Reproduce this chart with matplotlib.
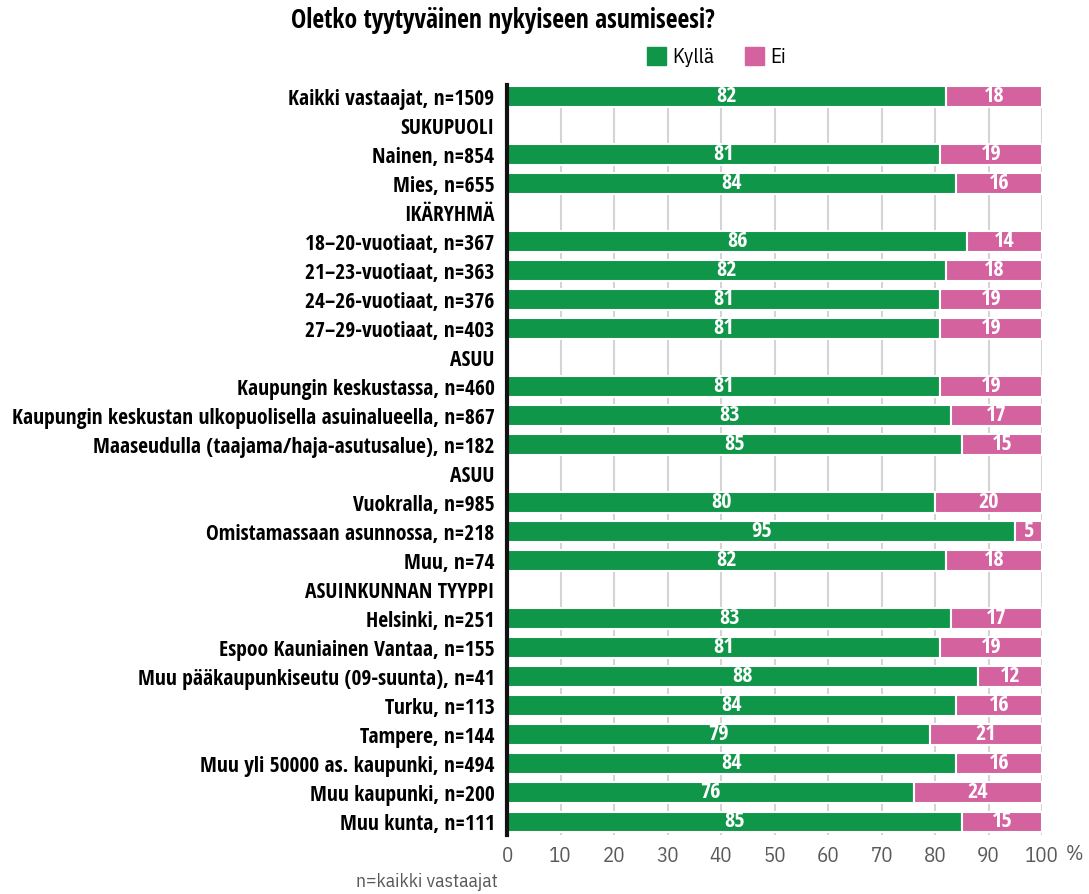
import numpy as np
import matplotlib
matplotlib.use("Agg")
import matplotlib.pyplot as plt
from matplotlib.patches import Patch

plt.rcParams["font.family"] = ["Open Sans Condensed", "DejaVu Sans"]
plt.rcParams["font.weight"] = "bold"

# 数据：行标签（None 值表示分组标题行）
row_labels = [
    "Kaikki vastaajat, n=1509",
    "SUKUPUOLI",
    "Nainen, n=854",
    "Mies, n=655",
    "IKÄRYHMÄ",
    "18–20-vuotiaat, n=367",
    "21–23-vuotiaat, n=363",
    "24–26-vuotiaat, n=376",
    "27–29-vuotiaat, n=403",
    "ASUU",
    "Kaupungin keskustassa, n=460",
    "Kaupungin keskustan ulkopuolisella asuinalueella, n=867",
    "Maaseudulla (taajama/haja-asutusalue), n=182",
    "ASUU",
    "Vuokralla, n=985",
    "Omistamassaan asunnossa, n=218",
    "Muu, n=74",
    "ASUINKUNNAN TYYPPI",
    "Helsinki, n=251",
    "Espoo Kauniainen Vantaa, n=155",
    "Muu pääkaupunkiseutu (09-suunta), n=41",
    "Turku, n=113",
    "Tampere, n=144",
    "Muu yli 50000 as. kaupunki, n=494",
    "Muu kaupunki, n=200",
    "Muu kunta, n=111",
]
kylla = [82, None, 81, 84, None, 86, 82, 81, 81, None, 81, 83, 85, None,
         80, 95, 82, None, 83, 81, 88, 84, 79, 84, 76, 85]
ei = [18, None, 19, 16, None, 14, 18, 19, 19, None, 19, 17, 15, None,
      20, 5, 18, None, 17, 19, 12, 16, 21, 16, 24, 15]

green = "#0f9649"
pink = "#d3629f"
gray = "#5a5a5a"
regular = dict(family="IBM Plex Sans Condensed", weight="normal")

fig = plt.figure(figsize=(10.89, 8.94), dpi=100)
ax = fig.add_axes([0.4656, 0.066, 0.4913, 0.839])

y = np.arange(len(row_labels))
for i in y:
    if kylla[i] is None:
        continue
    ax.barh(i, kylla[i], height=0.72, color=green, edgecolor="white",
            linewidth=1.5, zorder=3)
    ax.barh(i, ei[i], left=kylla[i], height=0.72, color=pink,
            edgecolor="white", linewidth=1.5, zorder=3)
    ax.text(kylla[i] / 2, i, str(kylla[i]), ha="center", va="center",
            color="white", fontsize=16, fontweight="bold", zorder=4)
    ax.text(kylla[i] + ei[i] / 2, i, str(ei[i]), ha="center", va="center",
            color="white", fontsize=16, fontweight="bold", zorder=4)

ax.set_xlim(0, 100)
ax.set_ylim(len(row_labels) - 1 + 0.45, -0.41)
ax.set_xticks(np.arange(0, 101, 10))
ax.set_xticklabels([str(v) for v in range(0, 101, 10)], fontsize=15,
                   color=gray, **regular)
ax.tick_params(axis="x", length=0, pad=9)
ax.set_yticks(y)
ax.set_yticklabels(row_labels, fontsize=15.5, fontweight="bold")
ax.tick_params(axis="y", length=0, pad=9)
ax.grid(axis="x", color="#d4d4d4", linewidth=1.5, zorder=0)
ax.set_axisbelow(True)
for s in ["top", "right", "bottom"]:
    ax.spines[s].set_visible(False)
ax.spines["left"].set_linewidth(3)
ax.spines["left"].set_color("#111111")
ax.spines["left"].set_zorder(5)

# 标题、图例与注释
fig.text(0.462, 0.977, "Oletko tyytyväinen nykyiseen asumiseesi?",
         ha="center", va="center", fontsize=18.5, fontweight="bold")
handles = [Patch(color=green, label="Kyllä"), Patch(color=pink, label="Ei")]
fig.legend(handles=handles, loc="center", bbox_to_anchor=(0.658, 0.936),
           ncol=2, frameon=False, prop=dict(size=15, **regular),
           handlelength=0.9, handleheight=0.9, handletextpad=0.3,
           columnspacing=1.5)
fig.text(0.987, 0.044, "%", ha="center", va="center", fontsize=15,
         color=gray, **regular)
fig.text(0.457, 0.013, "n=kaikki vastaajat", ha="right", va="center",
         fontsize=14, color=gray, **regular)

fig.savefig("out.png", dpi=100)
